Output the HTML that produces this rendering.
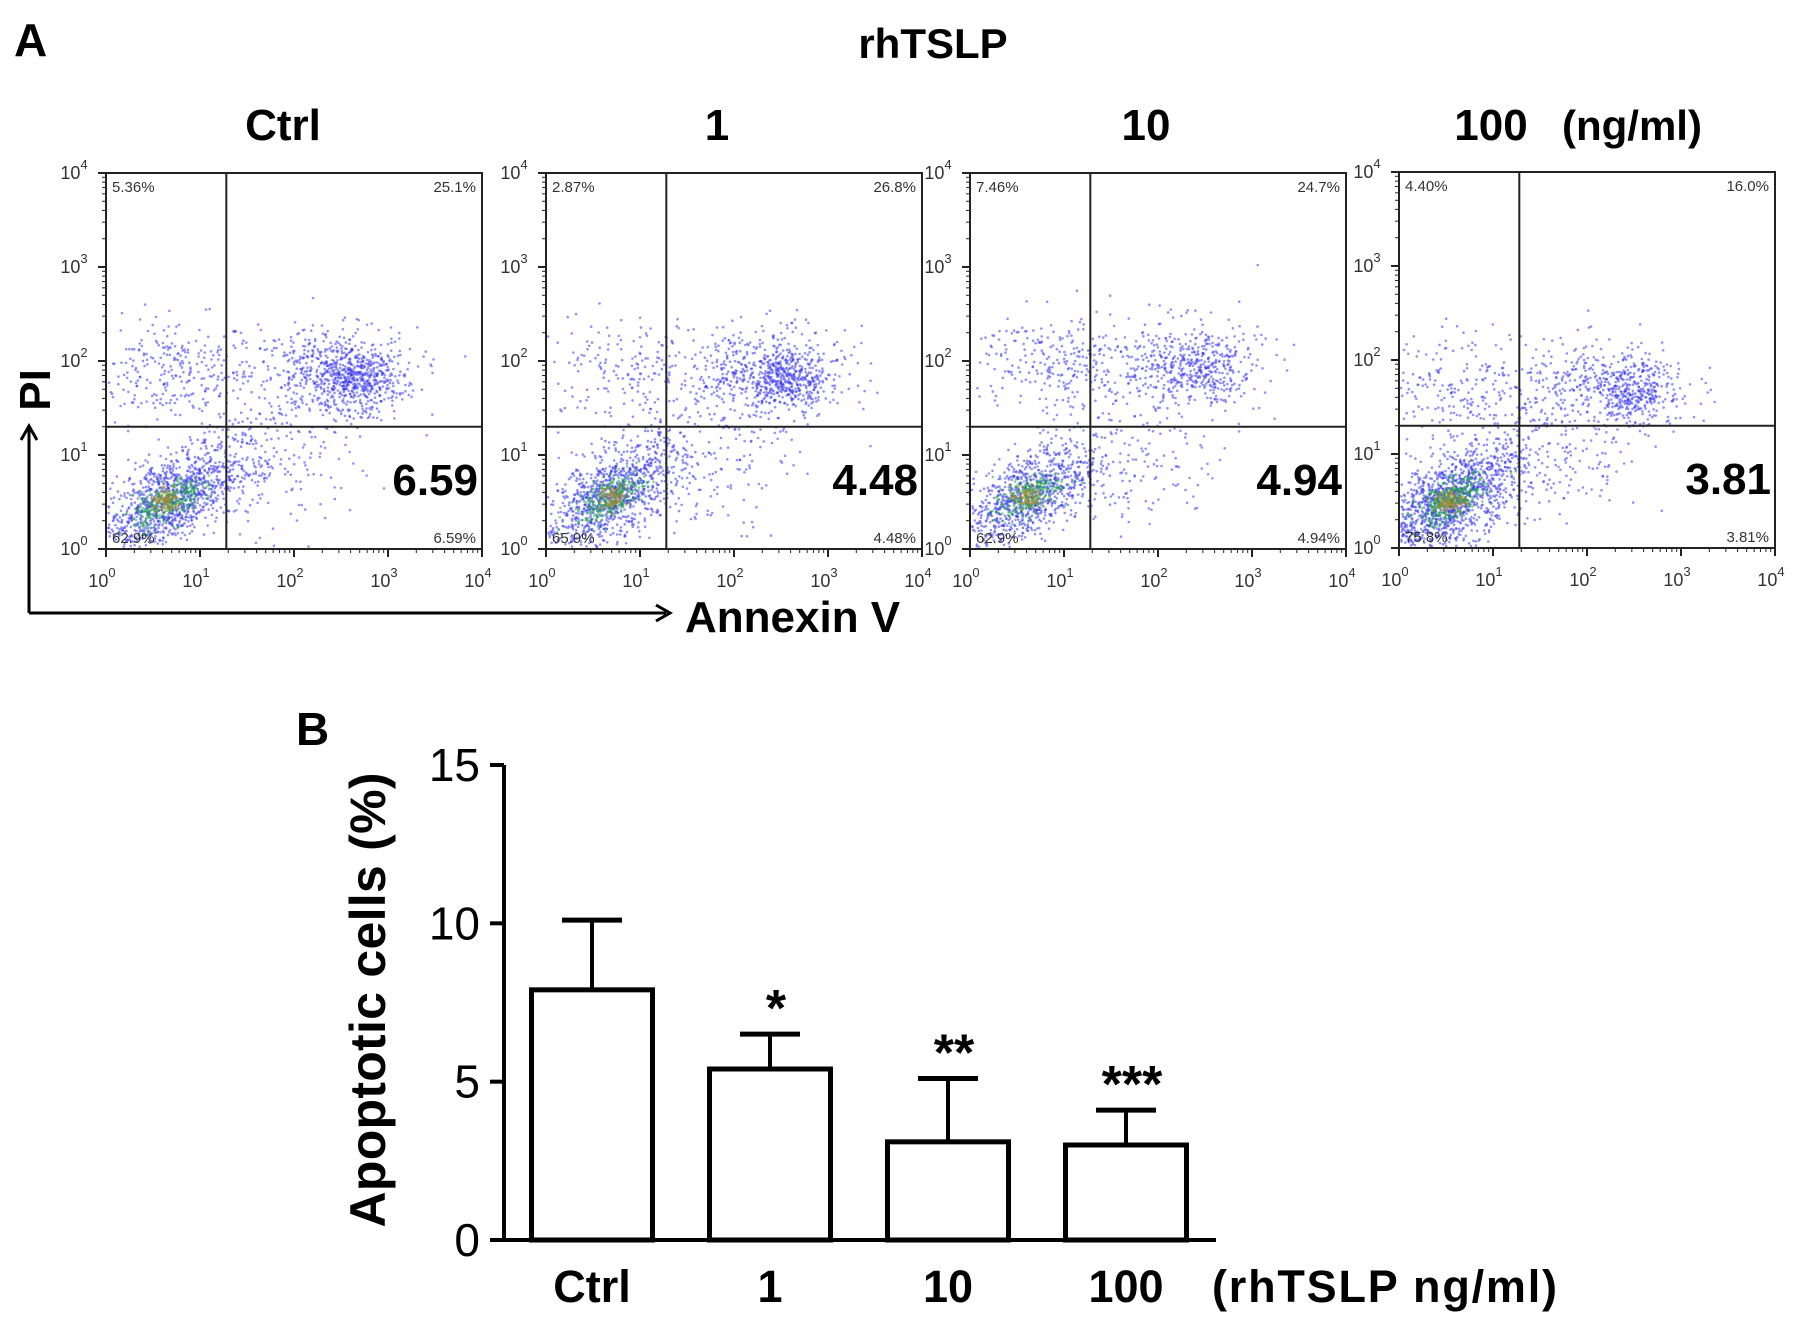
<!DOCTYPE html>
<html><head><meta charset="utf-8"><style>
body{margin:0;background:#fff;}
svg{display:block;font-family:"Liberation Sans",Arial,sans-serif;}
</style></head><body>
<svg id="fig" width="1795" height="1325" viewBox="0 0 1795 1325">
<text x="14" y="56" font-size="46" font-weight="bold">A</text>
<text x="933" y="58" font-size="42" font-weight="bold" text-anchor="middle">rhTSLP</text>
<g id="flow"></g>
<path d="M29,613 L666,613" stroke="#000" stroke-width="3" fill="none"/>
<path d="M656,605 L670,613 L656,621" stroke="#000" stroke-width="3" fill="none"/>
<path d="M29,613 L29,428" stroke="#000" stroke-width="3" fill="none"/>
<path d="M21,440 L29,426 L37,440" stroke="#000" stroke-width="3" fill="none"/>
<text x="685" y="632" font-size="44" font-weight="bold">Annexin V</text>
<text transform="translate(50,390) rotate(-90)" font-size="44" font-weight="bold" text-anchor="middle">PI</text>
<text x="296" y="745" font-size="46" font-weight="bold">B</text>
<g id="bar"></g>
</svg>
<script>
// ---- Flow cytometry panels ----
const panelTitles = ["Ctrl","1","10","100"];
const llPct = ["62.9%","65.9%","62.9%","75.8%"];
const ulPct = ["5.36%","2.87%","7.46%","4.40%"];
const urPct = ["25.1%","26.8%","24.7%","16.0%"];
const lrPct = ["6.59%","4.48%","4.94%","3.81%"];
const lrBig = ["6.59","4.48","4.94","3.81"];
// cluster centers in decades (x: annexin log10, y: PI log10), counts
const llCenterX=[0.65,0.7,0.6,0.55], llCenterY=[0.5,0.55,0.55,0.5], llCount=[1100,1000,900,1300];
const urCenterX=[2.4,2.3,2.2,2.2], urCenterY=[1.85,1.85,1.95,1.7], urCount=[600,550,380,420];
const ulCenterX=[0.7,0.8,0.9,0.7], ulCenterY=[1.9,1.9,2.0,1.75], ulCount=[280,170,250,220];
const lrCount=[240,170,180,170];
const titleX=[283,717,1146,1491];
const boxes=[[106,173],[546,173],[970,173],[1399,172]];
const BW=376,BH=376;
let seed=12345;
function rnd(){seed=(seed*1103515245+12345)%2147483648;return seed/2147483648;}
function gauss(){let u=rnd()||1e-6,v=rnd();return Math.sqrt(-2*Math.log(u))*Math.cos(2*Math.PI*v);}
const NS="http://www.w3.org/2000/svg";
function mk(t,a,p){const e=document.createElementNS(NS,t);for(const k in a)e.setAttribute(k,a[k]);p.appendChild(e);return e;}
const flow=document.getElementById('flow');
panelTitles.forEach((t,i)=>{
  const [bx,by]=boxes[i];
  const g=mk('g',{},flow);
  
  
  const sx=d=>bx+d/4*BW, sy=d=>by+BH-d/4*BH;
  const tt=mk('text',{x:titleX[i],y:140,'font-size':44,'font-weight':'bold','text-anchor':'middle'},g);
  tt.textContent=t;
  
  
  const dots=mk('g',{'fill-opacity':0.55},g);
  
  
  function cl(cx,cy,sxv,syv,n,col,rho){rho=rho||0;for(let k=0;k<n;k++){const a=gauss(),b=gauss();let x=cx+a*sxv,y=cy+(rho*a+Math.sqrt(1-rho*rho)*b)*syv;if(x<0.02||y<0.02||x>3.98||y>3.98)continue;mk('circle',{cx:sx(x).toFixed(1),cy:sy(y).toFixed(1),r:1.3,fill:col||'#3a3aee'},dots);}}
  cl(ulCenterX[i],ulCenterY[i],0.45,0.28,ulCount[i]);
  cl(urCenterX[i],urCenterY[i],0.45,0.25,urCount[i]);
  cl(urCenterX[i]+0.3,urCenterY[i]-0.05,0.2,0.15,urCount[i]/2);
  cl(1.6,0.9,0.5,0.35,lrCount[i]);
  cl(llCenterX[i],llCenterY[i],0.38,0.3,llCount[i],null,0.6);
  cl(llCenterX[i],llCenterY[i],0.18,0.13,llCount[i]/4,'#22aa44',0.6);
  cl(llCenterX[i],llCenterY[i],0.08,0.06,llCount[i]/12,'#aa8833');
  const box=mk('rect',{x:bx,y:by,width:BW,height:BH,fill:'none',stroke:'#222','stroke-width':2},g);
  
  
  const qx=bx+BW*0.32,qy=by+BH*0.675;
  mk('line',{x1:qx,y1:by,x2:qx,y2:by+BH,stroke:'#222','stroke-width':2},g);
  mk('line',{x1:bx,y1:qy,x2:bx+BW,y2:qy,stroke:'#222','stroke-width':2},g);
  for(let d=0;d<=4;d++){
    mk('line',{x1:sx(d),y1:by+BH,x2:sx(d),y2:by+BH+8,stroke:'#222','stroke-width':2},g);
    mk('line',{x1:bx-8,y1:sy(d),x2:bx,y2:sy(d),stroke:'#222','stroke-width':2},g);
    const xl=mk('text',{x:sx(d)-4,y:by+BH+38,'font-size':18,'text-anchor':'middle',fill:'#333'},g);
    xl.innerHTML='10<tspan dy="-10" font-size="13">'+d+'</tspan>';
    const yl=mk('text',{x:bx-32,y:sy(d)+6,'font-size':18,'text-anchor':'middle',fill:'#333'},g);
    yl.innerHTML='10<tspan dy="-10" font-size="13">'+d+'</tspan>';
    if(d<4)for(let m=2;m<10;m++){const f=Math.log10(m);
      mk('line',{x1:sx(d+f),y1:by+BH,x2:sx(d+f),y2:by+BH+4,stroke:'#222','stroke-width':1},g);
      mk('line',{x1:bx-4,y1:sy(d+f),x2:bx,y2:sy(d+f),stroke:'#222','stroke-width':1},g);}
  }
  const lab=(x,y,s,a)=>{const e=mk('text',{x:x,y:y,'font-size':15,'text-anchor':a,fill:'#333'},g);e.textContent=s;return e;};
  lab(bx+6,by+19,ulPct[i],'start');
  lab(bx+BW-6,by+19,urPct[i],'end');
  lab(bx+6,by+BH-6,llPct[i],'start');
  lab(bx+BW-6,by+BH-6,lrPct[i],'end');
  const big=mk('text',{x:bx+BW-4,y:by+BH*0.675+68,'font-size':44,'font-weight':'bold','text-anchor':'end'},g);
  big.textContent=lrBig[i];
  
  
});
const unit=mk('text',{x:1562,y:140,'font-size':42,'font-weight':'bold'},flow);
unit.textContent='(ng/ml)';

// ---- Bar chart ----
const categories=["Ctrl","1","10","100"];
const means=[7.9,5.4,3.1,3.0];
const errs=[2.2,1.1,2.0,1.1];
const stars=["","*","**","***"];
const yTicks=[0,5,10,15];
const bar=document.getElementById('bar');
const X0=504,Y0=1240,YTOP=765,XEND=1216;
const yS=v=>Y0-(v/15)*(Y0-YTOP);
const slot=178, firstC=592, bw=121;
const xC=i=>firstC+i*slot;
mk('line',{x1:X0,y1:YTOP,x2:X0,y2:Y0,stroke:'#000','stroke-width':4},bar);
mk('line',{x1:X0-14,y1:Y0,x2:XEND,y2:Y0,stroke:'#000','stroke-width':4},bar);
yTicks.forEach(v=>{
  mk('line',{x1:X0-14,y1:yS(v),x2:X0,y2:yS(v),stroke:'#000','stroke-width':4},bar);
  const t=mk('text',{x:X0-24,y:yS(v)+16,'font-size':46,'text-anchor':'end'},bar);
  t.textContent=v;
  
  
});
categories.forEach((c,i)=>{
  const x=xC(i);
  const r=mk('rect',{x:x-bw/2,y:yS(means[i]),width:bw,height:Y0-yS(means[i]),fill:'#fff',stroke:'#000','stroke-width':5},bar);
  
  
  const top=yS(means[i]+errs[i]);
  mk('line',{x1:x,y1:yS(means[i]),x2:x,y2:top,stroke:'#000','stroke-width':4},bar);
  const cap=mk('line',{x1:x-30,y1:top,x2:x+30,y2:top,stroke:'#000','stroke-width':5},bar);
  
  
  if(stars[i]){const s=mk('text',{x:x+6,y:top-8,'font-size':52,'font-weight':'bold','text-anchor':'middle'},bar);s.textContent=stars[i];
    
    }
  const l=mk('text',{x:x,y:1302,'font-size':45,'font-weight':'bold','text-anchor':'middle'},bar);
  l.textContent=c;
  
  
});
const xt=mk('text',{x:1212,y:1302,'font-size':45,'font-weight':'bold','textLength':345},bar);
xt.textContent='(rhTSLP ng/ml)';


const yt=mk('text',{transform:'translate(385,1000) rotate(-90)','font-size':50,'font-weight':'bold','text-anchor':'middle','textLength':455},bar);
yt.textContent='Apoptotic cells (%)';


</script>
</body></html>
